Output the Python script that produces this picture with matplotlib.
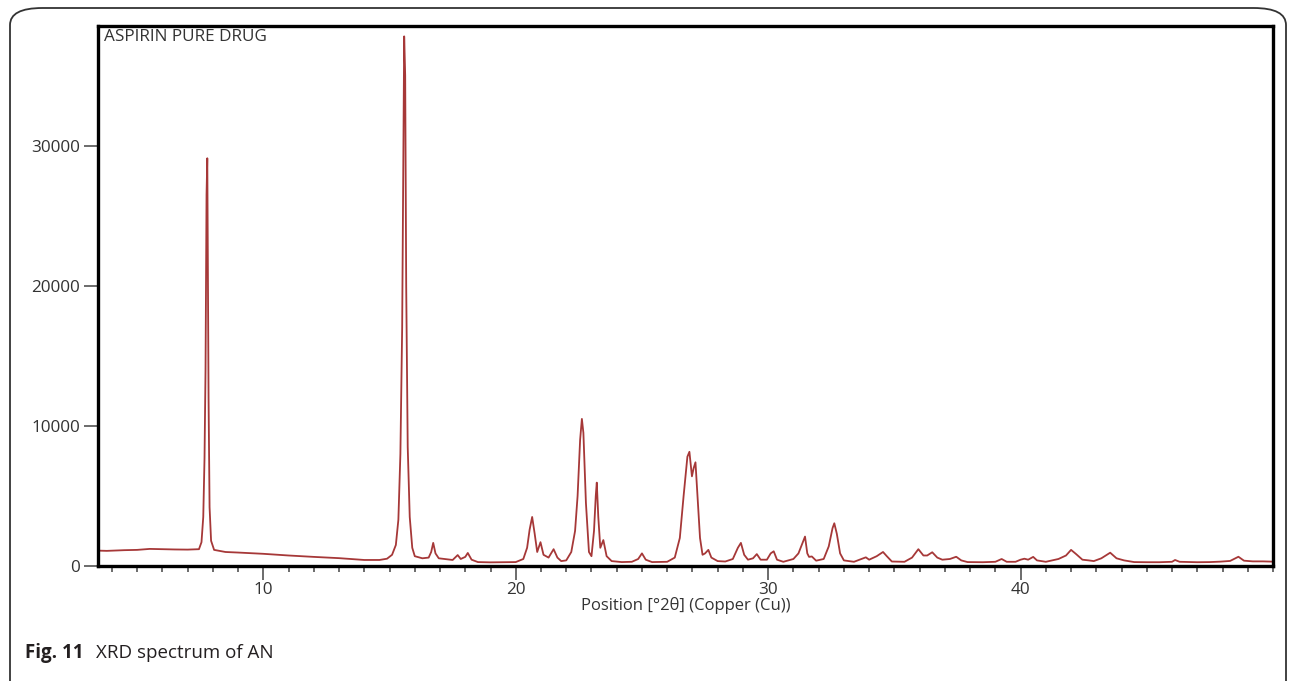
import matplotlib

matplotlib.use("Agg")
import matplotlib.pyplot as plt
from matplotlib.patches import FancyBboxPatch
from matplotlib.ticker import MultipleLocator

two_theta = [
    3.4, 3.8, 4.5, 5.0, 5.5, 6.0, 6.5, 7.0, 7.45, 7.55, 7.62, 7.67, 7.71, 7.75,
    7.78, 7.80, 7.83, 7.87, 7.93, 8.05, 8.5, 9.0, 10.0, 11.0, 12.0, 13.0, 14.0,
    14.6, 14.9, 15.1, 15.25, 15.35, 15.43, 15.5, 15.54, 15.58, 15.62, 15.66,
    15.72, 15.8, 15.9, 16.0, 16.3, 16.55, 16.65, 16.73, 16.82, 16.95, 17.5,
    17.7, 17.82, 18.0, 18.1, 18.25, 18.5, 19.0, 19.5, 20.0, 20.3, 20.45, 20.55,
    20.65, 20.75, 20.85, 20.98, 21.1, 21.3, 21.5, 21.65, 21.8, 22.0, 22.2,
    22.35, 22.45, 22.55, 22.62, 22.68, 22.78, 22.9, 23.0, 23.1, 23.17, 23.21,
    23.27, 23.35, 23.47, 23.6, 23.8, 24.2, 24.6, 24.85, 25.0, 25.15, 25.4,
    26.0, 26.3, 26.5, 26.65, 26.8, 26.88, 26.98, 27.05, 27.12, 27.2, 27.3,
    27.4, 27.5, 27.63, 27.75, 28.0, 28.3, 28.6, 28.8, 28.92, 29.05, 29.2,
    29.4, 29.55, 29.7, 29.95, 30.1, 30.22, 30.35, 30.6, 31.0, 31.2, 31.35,
    31.46, 31.55, 31.62, 31.73, 31.9, 32.2, 32.4, 32.55, 32.62, 32.72, 32.85,
    33.0, 33.4, 33.7, 33.87, 34.0, 34.3, 34.55, 34.7, 34.9, 35.4, 35.7, 35.95,
    36.15, 36.3, 36.5, 36.7, 36.9, 37.2, 37.45, 37.65, 37.9, 38.5, 39.0,
    39.25, 39.45, 39.8, 40.0, 40.15, 40.3, 40.5, 40.65, 41.0, 41.5, 41.8,
    42.0, 42.2, 42.45, 42.7, 42.9, 43.2, 43.55, 43.8, 44.1, 44.5, 45.0, 45.5,
    46.0, 46.12, 46.3, 47.0, 47.5, 47.9, 48.3, 48.63, 48.85, 49.2, 49.6, 50.0,
]
counts = [
    1100, 1080, 1130, 1150, 1220, 1200, 1180, 1170, 1200, 1700, 3500, 7700,
    14000, 26500, 29100, 22000, 12000, 4200, 1800, 1150, 1000, 960, 870, 750,
    650, 560, 430, 430, 520, 800, 1500, 3300, 8000, 17000, 28000, 37800, 35000,
    20000, 8500, 3500, 1300, 700, 550, 600, 1000, 1650, 900, 550, 430, 780,
    500, 650, 930, 450, 280, 260, 270, 280, 500, 1300, 2600, 3500, 2300, 1000,
    1700, 800, 600, 1200, 600, 350, 400, 1000, 2500, 5000, 9000, 10500, 9500,
    4500, 1000, 700, 2500, 5000, 5950, 3500, 1300, 1850, 700, 350, 280, 300,
    500, 900, 450, 280, 300, 600, 2000, 5000, 7800, 8150, 6400, 7000, 7400,
    5000, 2000, 800, 900, 1150, 600, 350, 320, 500, 1300, 1650, 800, 450, 550,
    850, 450, 450, 900, 1050, 450, 300, 500, 900, 1600, 2100, 900, 650, 680,
    380, 500, 1400, 2700, 3050, 2300, 900, 400, 300, 500, 620, 450, 700, 1000,
    700, 320, 300, 600, 1200, 750, 750, 980, 600, 450, 500, 660, 400, 280,
    270, 300, 500, 300, 300, 450, 520, 450, 650, 400, 300, 500, 750, 1150,
    850, 450, 400, 350, 550, 950, 550, 400, 280, 270, 270, 300, 430, 300, 270,
    280, 310, 360, 660, 380, 330, 330, 310,
]
y_ticks = [0, 10000, 20000, 30000]
x_ticks = [10, 20, 30, 40]

plt.rcParams["font.family"] = ["Open Sans", "DejaVu Sans"]

W, H = 1295, 681
fig = plt.figure(figsize=(W / 100, H / 100), dpi=100)

# rounded page frame around the figure
frame = FancyBboxPatch(
    (10 / W, -0.2), 1276 / W, 1.2 - 8 / H,
    boxstyle="round,pad=0,rounding_size=0.025",
    transform=fig.transFigure, fill=False, edgecolor="#333333", linewidth=1.3,
)
fig.patches.append(frame)

ax = fig.add_axes([98 / W, 1 - 566 / H, 1175 / W, 540 / H])
ax.plot(two_theta, counts, color="#a63838", linewidth=1.3)

ax.set_xlim(3.45, 50.0)
ax.set_ylim(0, 38540)
ax.set_xticks(x_ticks)
ax.set_yticks(y_ticks)
ax.xaxis.set_minor_locator(MultipleLocator(1))

for s in ax.spines.values():
    s.set_linewidth(2.4)
    s.set_color("black")

ax.tick_params(axis="both", which="major", direction="out", length=10,
               width=1.1, color="#444444", labelsize=12.3, labelcolor="#333333")
ax.tick_params(axis="x", which="minor", direction="out", length=4.5,
               width=1.1, color="#444444")
ax.tick_params(axis="x", which="major", pad=1.5)
ax.tick_params(axis="y", which="major", pad=3)

ax.set_xlabel("Position [°2θ] (Copper (Cu))", fontsize=12, color="#333333",
              labelpad=-1)
ax.text(0.005, 0.994, "ASPIRIN PURE DRUG", transform=ax.transAxes,
        ha="left", va="top", fontsize=12.3, color="#333333")

fig.text(25 / W, 1 - 653 / H, "Fig. 11", fontsize=13.5, fontweight="bold",
         color="#231f20", va="center", ha="left")
fig.text(96 / W, 1 - 653 / H, "XRD spectrum of AN", fontsize=13.5,
         color="#231f20", va="center", ha="left")

fig.savefig("out.png", dpi=100)
plt.close(fig)
